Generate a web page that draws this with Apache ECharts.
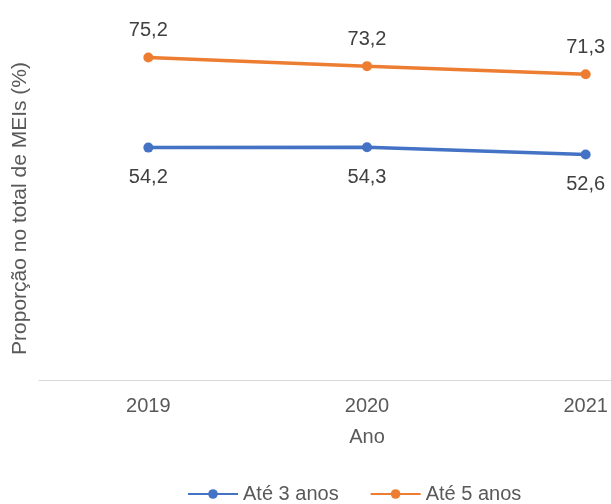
<!DOCTYPE html>
<html>
<head>
<meta charset="utf-8">
<script src="https://cdn.jsdelivr.net/npm/echarts@6/dist/echarts.min.js"></script>
<style>
  html, body { margin: 0; padding: 0; background: #fff; overflow: hidden; }
  /* the original is cropped on the right, so draw wider and let the window clip it */
  #chart { width: 695px; height: 504px; }
</style>
</head>
<body>
<div id="chart"></div>
<script>
// data
var anos = ["2019", "2020", "2021"];
var ate3anos = [54.2, 54.3, 52.6];
var ate5anos = [75.2, 73.2, 71.3];

var font = "'Liberation Sans', Arial, sans-serif";
var blue = "#4472C4", orange = "#ED7D31";

function fmt(p) { return String(p.value).replace(".", ","); }

var chart = echarts.init(document.getElementById("chart"), null, { renderer: "canvas" });
chart.setOption({
  animation: false,
  textStyle: { fontFamily: font },
  grid: { left: 39, top: 37, right: 0, height: 343 },
  legend: {
    left: 182, top: 479,
    itemWidth: 50, itemHeight: 12, itemGap: 31,
    textStyle: { fontSize: 20, color: "#595959", fontFamily: font },
    data: ["Até 3 anos", "Até 5 anos"]
  },
  xAxis: {
    type: "category",
    data: anos,
    name: "Ano",
    nameLocation: "middle",
    nameGap: 47,
    nameTextStyle: { fontSize: 20, color: "#595959" },
    axisLine: { lineStyle: { color: "#d9d9d9", width: 1 } },
    axisTick: { show: false },
    axisLabel: { fontSize: 20, color: "#595959", margin: 16 }
  },
  yAxis: {
    type: "value",
    min: 0, max: 80,
    name: "Proporção no total de MEIs (%)",
    nameLocation: "middle",
    nameGap: 8,
    nameTextStyle: { fontSize: 21, color: "#595959" },
    axisLine: { show: false },
    axisTick: { show: false },
    axisLabel: { show: false },
    splitLine: { show: false }
  },
  series: [
    {
      name: "Até 3 anos", type: "line", data: ate3anos,
      symbol: "circle", symbolSize: 10,
      lineStyle: { color: blue, width: 3.5 },
      itemStyle: { color: blue },
      label: { show: true, position: "bottom", distance: 15, fontSize: 20, color: "#404040", formatter: fmt }
    },
    {
      name: "Até 5 anos", type: "line", data: ate5anos,
      symbol: "circle", symbolSize: 10,
      lineStyle: { color: orange, width: 3.5 },
      itemStyle: { color: orange },
      label: { show: true, position: "top", distance: 12, fontSize: 20, color: "#404040", formatter: fmt }
    }
  ]
});
</script>
</body>
</html>
